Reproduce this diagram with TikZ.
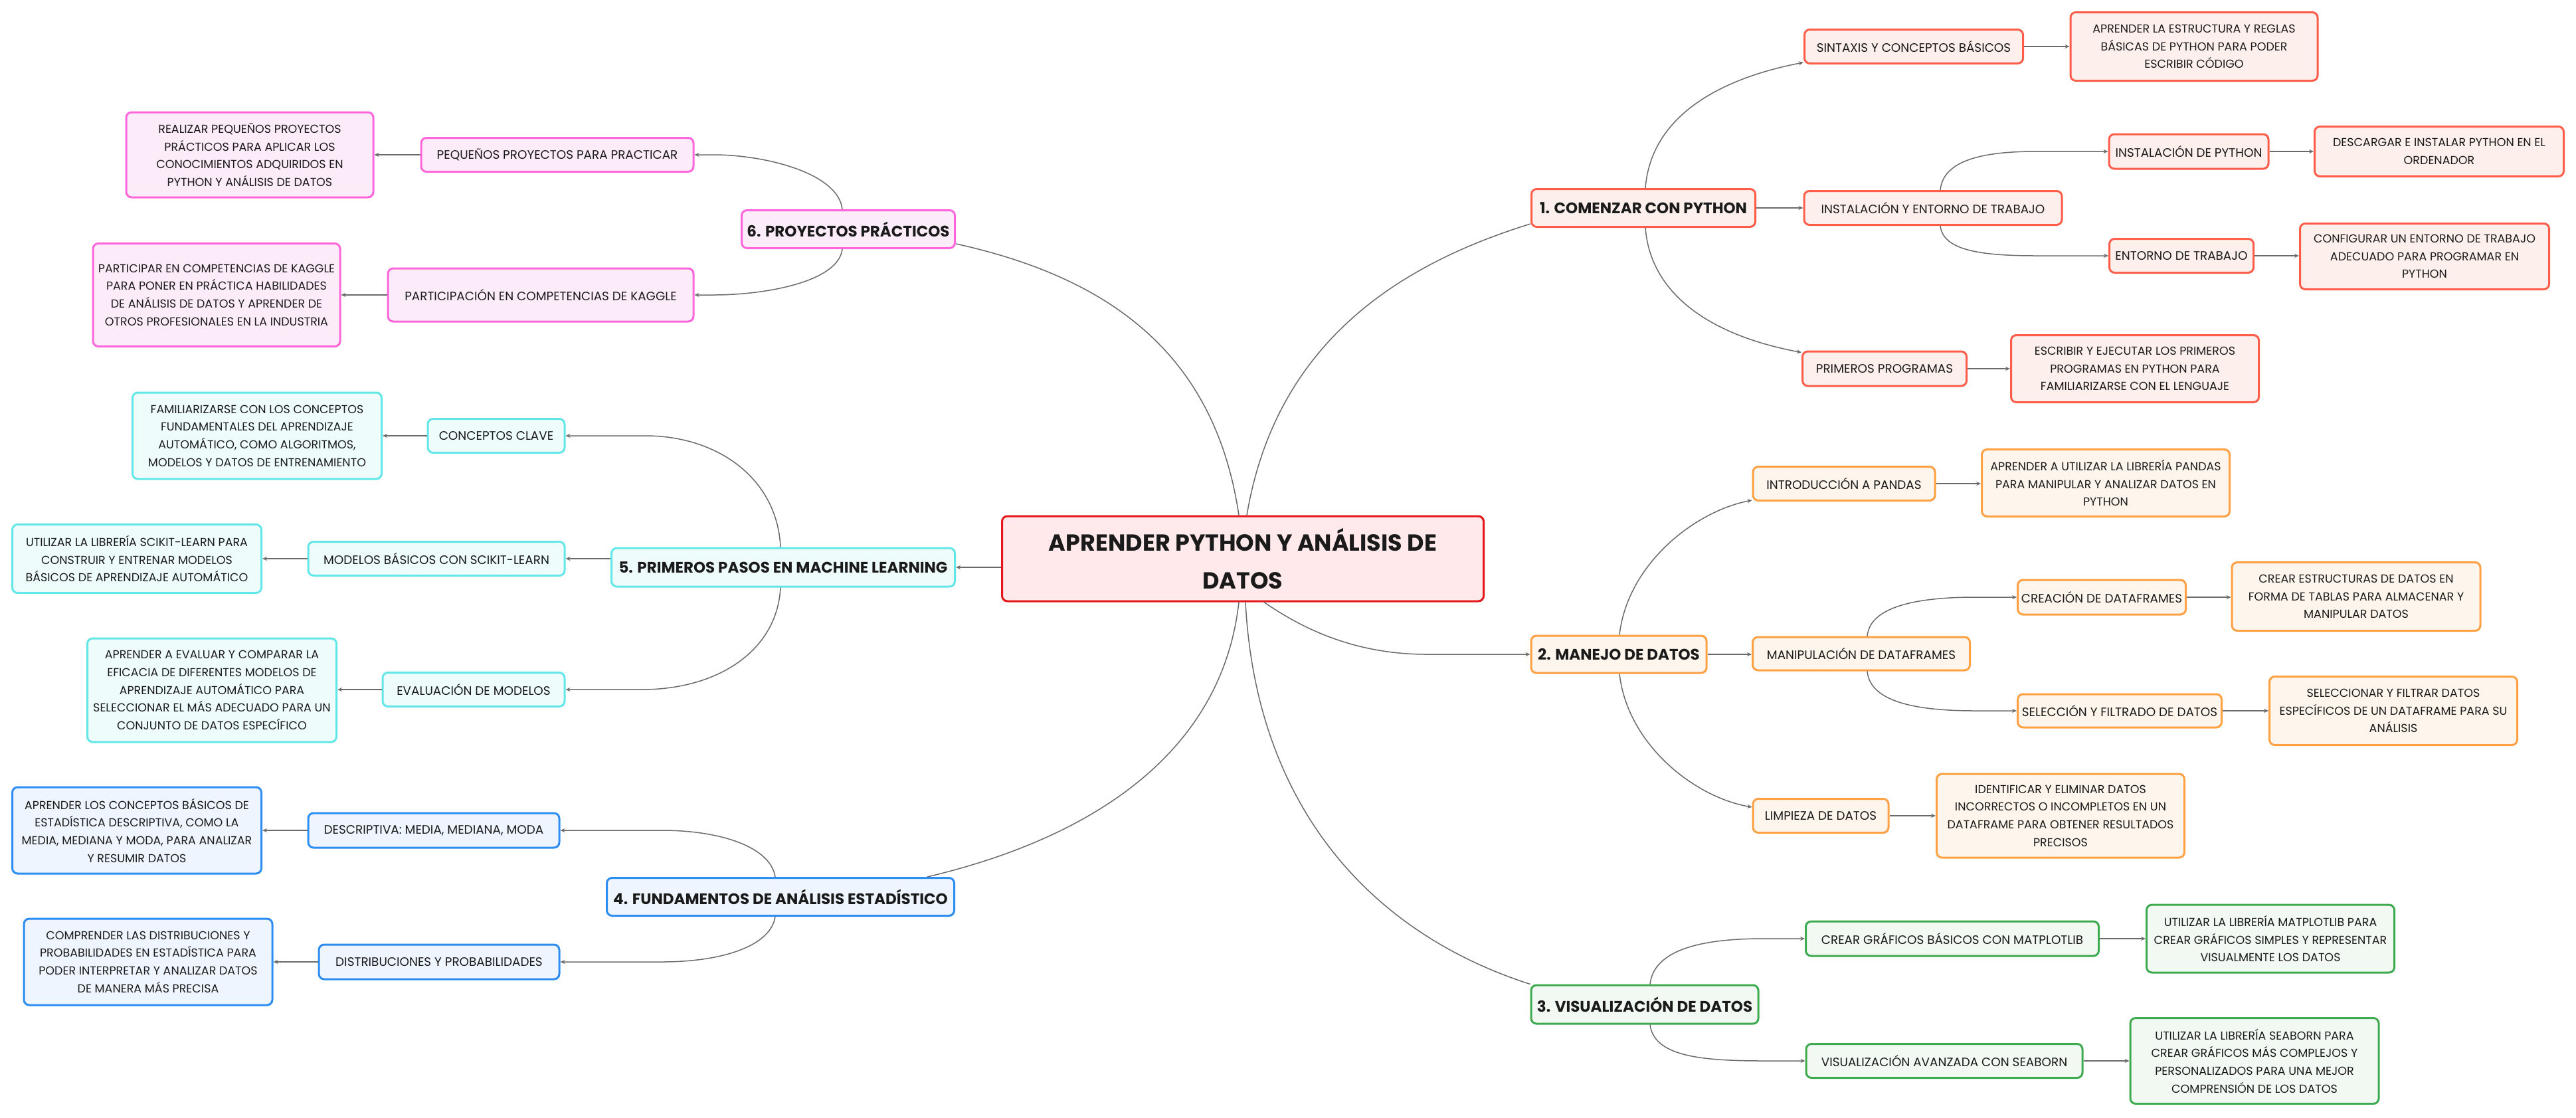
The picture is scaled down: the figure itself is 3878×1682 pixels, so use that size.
\documentclass[tikz,border=0pt]{standalone}
\usepackage{fontspec}
\setmainfont{Poppins}
\usetikzlibrary{calc,arrows.meta}
\definecolor{lk}{HTML}{6A6A6A}
\definecolor{txt}{HTML}{1A1A1A}
\definecolor{b0}{HTML}{E3161A}\definecolor{f0}{HTML}{FFE9EA}
\definecolor{b1}{HTML}{FF5C4A}\definecolor{f1}{HTML}{FDF0EC}
\definecolor{b2}{HTML}{FFA043}\definecolor{f2}{HTML}{FEF5EC}
\definecolor{b3}{HTML}{3EAA4F}\definecolor{f3}{HTML}{F2F9F3}
\definecolor{b4}{HTML}{2D8DF1}\definecolor{f4}{HTML}{EEF5FE}
\definecolor{b5}{HTML}{63E6E8}\definecolor{f5}{HTML}{EFFCFC}
\definecolor{b6}{HTML}{FF66DB}\definecolor{f6}{HTML}{FCEBF9}
\tikzset{
  mybox/.style={draw, rounded corners=8pt, line width=3pt, inner sep=0pt, align=center, text=txt,
    font=\fontsize{18.4}{26.7}\selectfont},
  descbox/.style={mybox, font=\fontsize{17.5}{26.7}\selectfont},
  mainbox/.style={mybox, font=\bfseries\fontsize{23}{28}\selectfont},
  centralbox/.style={mybox, draw=b0, fill=f0, font=\bfseries\fontsize{35}{57}\selectfont},
  k1/.style={draw=b1, fill=f1}, k2/.style={draw=b2, fill=f2}, k3/.style={draw=b3, fill=f3},
  k4/.style={draw=b4, fill=f4}, k5/.style={draw=b5, fill=f5}, k6/.style={draw=b6, fill=f6},
  wire/.style={draw=lk, line width=1.5pt},
  link/.style={wire, -{Stealth[length=7pt,width=6pt]}}
}
\newcommand\mynode[6]{\node[#1, minimum width=#4pt, minimum height=#5pt] (#2) at (#3) {#6};}
\begin{document}
\begin{tikzpicture}[x=1pt,y=-1pt]
\useasboundingbox (0,0) rectangle (3878,1682);
% central
\mynode{centralbox}{c}{1871,841}{725}{128}{APRENDER PYTHON Y ANÁLISIS DE\\DATOS}
% branch 1
\mynode{mainbox,k1}{n1}{2474,313}{337}{57}{1. COMENZAR CON PYTHON}
\mynode{mybox,k1}{sint}{2881,70}{329}{51}{SINTAXIS Y CONCEPTOS BÁSICOS}
\mynode{descbox,k1}{sintd}{3303,70}{372}{103}{APRENDER LA ESTRUCTURA Y REGLAS\\BÁSICAS DE PYTHON PARA PODER\\ESCRIBIR CÓDIGO}
\mynode{mybox,k1}{inst}{2910,313}{388}{51}{INSTALACIÓN Y ENTORNO DE TRABAJO}
\mynode{mybox,k1}{ipy}{3295,228}{240}{52}{INSTALACIÓN DE PYTHON}
\mynode{descbox,k1}{ipyd}{3672,228}{375}{75}{DESCARGAR E INSTALAR PYTHON EN EL\\ORDENADOR}
\mynode{mybox,k1}{ent}{3284,385}{217}{51}{ENTORNO DE TRABAJO}
\mynode{descbox,k1}{entd}{3650,386}{375}{99}{CONFIGURAR UN ENTORNO DE TRABAJO\\ADECUADO PARA PROGRAMAR EN\\PYTHON}
\mynode{mybox,k1}{prim}{2837,555}{247}{52}{PRIMEROS PROGRAMAS}
\mynode{descbox,k1}{primd}{3214,555}{373}{101}{ESCRIBIR Y EJECUTAR LOS PRIMEROS\\PROGRAMAS EN PYTHON PARA\\FAMILIARIZARSE CON EL LENGUAJE}
% branch 2
\mynode{mainbox,k2}{n2}{2437,985}{264}{56}{2. MANEJO DE DATOS}
\mynode{mybox,k2}{intro}{2776,728}{274}{51}{INTRODUCCIÓN A PANDAS}
\mynode{descbox,k2}{introd}{3170,727}{373}{101}{APRENDER A UTILIZAR LA LIBRERÍA PANDAS\\PARA MANIPULAR Y ANALIZAR DATOS EN\\PYTHON}
\mynode{mybox,k2}{manip}{2802,984}{327}{50}{MANIPULACIÓN DE DATAFRAMES}
\mynode{mybox,k2}{crea}{3164,899}{253}{52}{CREACIÓN DE DATAFRAMES}
\mynode{descbox,k2}{cread}{3547,898}{374}{103}{CREAR ESTRUCTURAS DE DATOS EN\\FORMA DE TABLAS PARA ALMACENAR Y\\MANIPULAR DATOS}
\mynode{mybox,k2}{sel}{3191,1070}{307}{50}{SELECCIÓN Y FILTRADO DE DATOS}
\mynode{descbox,k2}{seld}{3603,1070}{373}{103}{SELECCIONAR Y FILTRAR DATOS\\ESPECÍFICOS DE UN DATAFRAME PARA SU\\ANÁLISIS}
\mynode{mybox,k2}{limp}{2741,1228}{204}{51}{LIMPIEZA DE DATOS}
\mynode{descbox,k2}{limpd}{3102,1228}{373}{126}{IDENTIFICAR Y ELIMINAR DATOS\\INCORRECTOS O INCOMPLETOS EN UN\\DATAFRAME PARA OBTENER RESULTADOS\\PRECISOS}
% branch 3
\mynode{mainbox,k3}{n3}{2476,1512}{342}{58}{3. VISUALIZACIÓN DE DATOS}
\mynode{mybox,k3}{crear}{2939,1413}{441}{52}{CREAR GRÁFICOS BÁSICOS CON MATPLOTLIB}
\mynode{descbox,k3}{creard}{3418,1413}{373}{102}{UTILIZAR LA LIBRERÍA MATPLOTLIB PARA\\CREAR GRÁFICOS SIMPLES Y REPRESENTAR\\VISUALMENTE LOS DATOS}
\mynode{mybox,k3}{vis}{2927,1597}{416}{51}{VISUALIZACIÓN AVANZADA CON SEABORN}
\mynode{descbox,k3}{visd}{3394,1597}{374}{129}{UTILIZAR LA LIBRERÍA SEABORN PARA\\CREAR GRÁFICOS MÁS COMPLEJOS Y\\PERSONALIZADOS PARA UNA MEJOR\\COMPRENSIÓN DE LOS DATOS}
% branch 4
\mynode{mainbox,k4}{n4}{1175,1350}{523}{57}{4. FUNDAMENTOS DE ANÁLISIS ESTADÍSTICO}
\mynode{mybox,k4}{des}{653,1250}{378}{52}{DESCRIPTIVA: MEDIA, MEDIANA, MODA}
\mynode{descbox,k4}{desd}{206,1250}{375}{130}{APRENDER LOS CONCEPTOS BÁSICOS DE\\ESTADÍSTICA DESCRIPTIVA, COMO LA\\MEDIA, MEDIANA Y MODA, PARA ANALIZAR\\Y RESUMIR DATOS}
\mynode{mybox,k4}{dis}{661,1448}{362}{52}{DISTRIBUCIONES Y PROBABILIDADES}
\mynode{descbox,k4}{disd}{223,1448}{374}{130}{COMPRENDER LAS DISTRIBUCIONES Y\\PROBABILIDADES EN ESTADÍSTICA PARA\\PODER INTERPRETAR Y ANALIZAR DATOS\\DE MANERA MÁS PRECISA}
% branch 5
\mynode{mainbox,k5}{n5}{1179,854}{517}{58}{5. PRIMEROS PASOS EN MACHINE LEARNING}
\mynode{mybox,k5}{conc}{747,656}{206}{51}{CONCEPTOS CLAVE}
\mynode{descbox,k5}{concd}{387,656}{375}{130}{FAMILIARIZARSE CON LOS CONCEPTOS\\FUNDAMENTALES DEL APRENDIZAJE\\AUTOMÁTICO, COMO ALGORITMOS,\\MODELOS Y DATOS DE ENTRENAMIENTO}
\mynode{mybox,k5}{mb}{657,841}{386}{51}{MODELOS BÁSICOS CON SCIKIT-LEARN}
\mynode{descbox,k5}{mbd}{206,841}{375}{103}{UTILIZAR LA LIBRERÍA SCIKIT-LEARN PARA\\CONSTRUIR Y ENTRENAR MODELOS\\BÁSICOS DE APRENDIZAJE AUTOMÁTICO}
\mynode{mybox,k5}{ev}{713,1038}{274}{51}{EVALUACIÓN DE MODELOS}
\mynode{descbox,k5}{evd}{319,1039}{375}{156}{APRENDER A EVALUAR Y COMPARAR LA\\EFICACIA DE DIFERENTES MODELOS DE\\APRENDIZAJE AUTOMÁTICO PARA\\SELECCIONAR EL MÁS ADECUADO PARA UN\\CONJUNTO DE DATOS ESPECÍFICO}
% branch 6
\mynode{mainbox,k6}{n6}{1277,345}{321}{57}{6. PROYECTOS PRÁCTICOS}
\mynode{mybox,k6}{peq}{839,233}{410}{51}{PEQUEÑOS PROYECTOS PARA PRACTICAR}
\mynode{descbox,k6}{peqd}{376,233}{372}{128}{REALIZAR PEQUEÑOS PROYECTOS\\PRÁCTICOS PARA APLICAR LOS\\CONOCIMIENTOS ADQUIRIDOS EN\\PYTHON Y ANÁLISIS DE DATOS}
\mynode{mybox,k6}{part}{814,444}{460}{80}{PARTICIPACIÓN EN COMPETENCIAS DE KAGGLE}
\mynode{descbox,k6}{partd}{326,444}{372}{155}{PARTICIPAR EN COMPETENCIAS DE KAGGLE\\PARA PONER EN PRÁCTICA HABILIDADES\\DE ANÁLISIS DE DATOS Y APRENDER DE\\OTROS PROFESIONALES EN LA INDUSTRIA}

% ---- connectors from central
\draw[wire] ($(c.north)+(6,0)$) .. controls (1920,520) and (2100,400) .. ($(n1.south west)+(0,-6)$);
\draw[wire] ($(c.north)+(-6,0)$) .. controls (1830,540) and (1680,420) .. ($(n6.south east)+(0,-8)$);
\draw[link] ($(c.south)+(32,0)$) .. controls (1980,960) and (2060,985) .. ($(n2.west)+(-155,0)$) -- (n2.west);
\draw[wire] ($(c.south)+(4,0)$) .. controls (1890,1200) and (2050,1400) .. (n3.north west);
\draw[wire] ($(c.south)+(-6,0)$) .. controls (1840,1130) and (1650,1260) .. ($(n4.north east)+(-42,0)$);
\draw[link] (c.west |- n5.east) -- (n5.east);
% ---- branch 1
\draw[link] ($(n1.north)+(3,0)$) .. controls (2485,180) and (2580,120) .. ($(sint.south west)+(0,-3)$);
\draw[link] (n1.east) -- (inst.west);
\draw[link] ($(n1.south)+(3,0)$) .. controls (2485,446) and (2580,506) .. ($(prim.north west)+(0,3)$);
\draw[link] ($(inst.north)+(11,0)$) .. controls (2925,245) and (2975,228) .. ($(ipy.west)+(-109,0)$) -- (ipy.west);
\draw[link] ($(inst.south)+(11,0)$) .. controls (2925,375) and (2975,385) .. ($(ent.west)+(-109,0)$) -- (ent.west);
\draw[link] (sint.east) -- (sintd.west);
\draw[link] (ipy.east) -- (ipyd.west);
\draw[link] (ent.east) -- (entd.west |- ent.east);
\draw[link] (prim.east) -- (primd.west);
% ---- branch 2
\draw[link] ($(n2.north)+(1,0)$) .. controls (2450,850) and (2550,770) .. ($(intro.south west)+(0,-2)$);
\draw[link] (n2.east) -- (manip.west |- n2.east);
\draw[link] ($(n2.south)+(1,0)$) .. controls (2450,1120) and (2550,1200) .. ($(limp.west)+(0,-13)$);
\draw[link] ($(manip.north)+(9,0)$) .. controls (2815,915) and (2880,899) .. ($(crea.west)+(-63,0)$) -- (crea.west);
\draw[link] ($(manip.south)+(9,0)$) .. controls (2815,1055) and (2880,1070) .. ($(sel.west)+(-63,0)$) -- (sel.west);
\draw[link] (intro.east) -- (introd.west |- intro.east);
\draw[link] (crea.east) -- (cread.west |- crea.east);
\draw[link] (sel.east) -- (seld.west);
\draw[link] (limp.east) -- (limpd.west);
% ---- branch 3
\draw[link] ($(n3.north)+(8,0)$) .. controls (2490,1430) and (2560,1413) .. ($(crear.west)+(-62,0)$) -- (crear.west);
\draw[link] ($(n3.south)+(8,0)$) .. controls (2490,1590) and (2560,1597) .. ($(vis.west)+(-62,0)$) -- (vis.west);
\draw[link] (crear.east) -- (creard.west);
\draw[link] (vis.east) -- (visd.west);
% ---- branch 4
\draw[link] ($(n4.north)+(-8,0)$) .. controls (1160,1275) and (1085,1250) .. ($(des.east)+(153,0)$) -- (des.east);
\draw[link] ($(n4.south)+(-8,0)$) .. controls (1160,1425) and (1085,1448) .. ($(dis.east)+(153,0)$) -- (dis.east);
\draw[link] (des.west) -- (desd.east);
\draw[link] (dis.west) -- (disd.east);
% ---- branch 5
\draw[link] ($(n5.north)+(-4,0)$) .. controls (1170,720) and (1080,656) .. ($(conc.east)+(120,0)$) -- (conc.east);
\draw[link] (n5.west |- mb.east) -- (mb.east);
\draw[link] ($(n5.south)+(-4,0)$) .. controls (1170,980) and (1080,1038) .. ($(ev.east)+(115,0)$) -- (ev.east);
\draw[link] (conc.west) -- (concd.east);
\draw[link] (mb.west) -- (mbd.east);
\draw[link] (ev.west) -- (evd.east |- ev.west);
% ---- branch 6
\draw[link] ($(n6.north)+(-9,0)$) .. controls (1262,260) and (1150,233) .. ($(peq.east)+(29,0)$) -- (peq.east);
\draw[link] ($(n6.south)+(-9,0)$) .. controls (1262,425) and (1150,444) .. ($(part.east)+(29,0)$) -- (part.east);
\draw[link] (peq.west) -- (peqd.east);
\draw[link] (part.west) -- (partd.east);
\end{tikzpicture}
\end{document}
